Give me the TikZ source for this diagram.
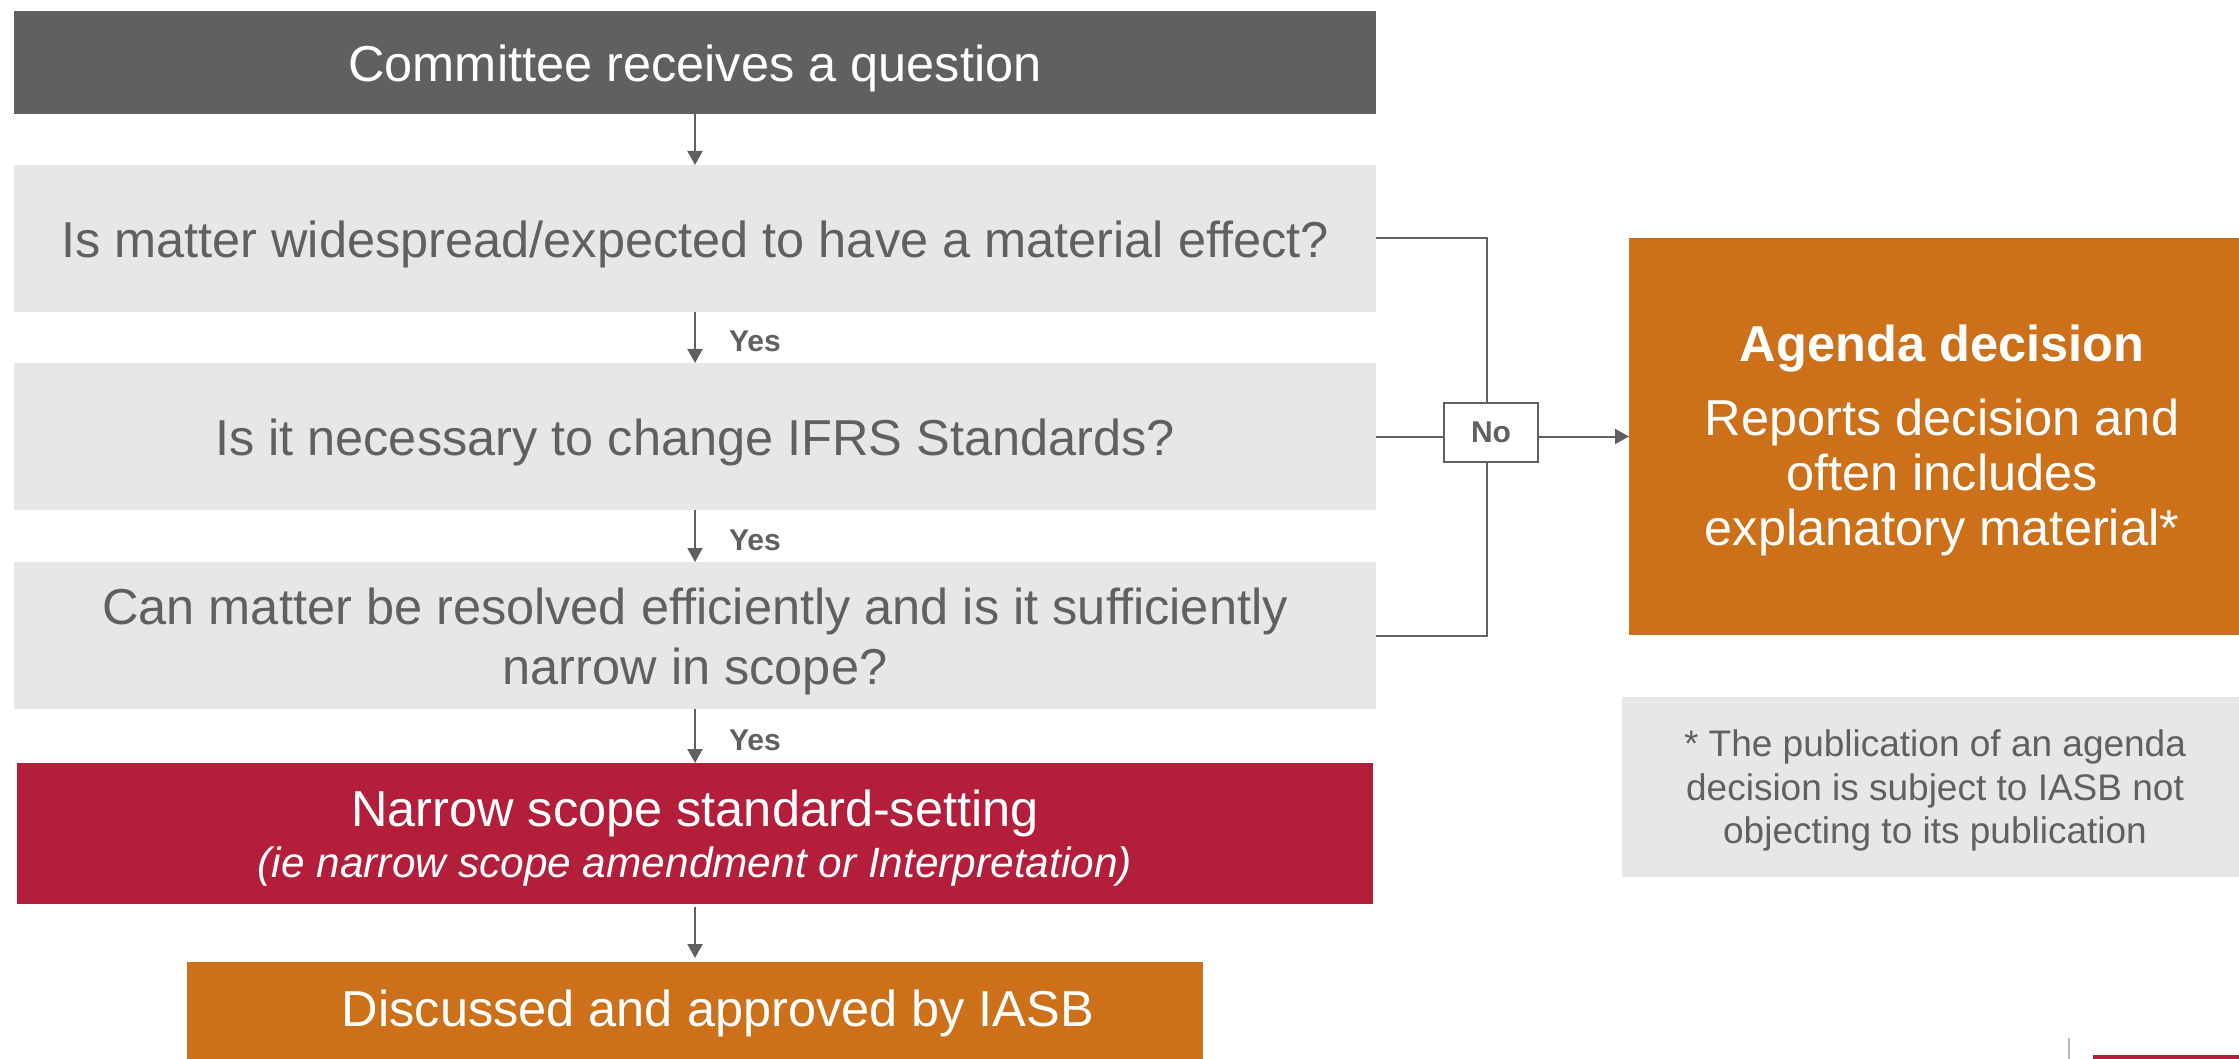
\documentclass[tikz,border=0pt]{standalone}
\usepackage{fontspec}
\setmainfont{Liberation Sans}
\usetikzlibrary{arrows.meta}
\definecolor{dg}{RGB}{95,96,98}
\definecolor{lg}{RGB}{231,231,231}
\definecolor{ifrsred}{RGB}{179,30,58}
\definecolor{ifrsorange}{RGB}{204,112,25}
\definecolor{decogray}{RGB}{185,185,185}
\newcommand\tallstrut[1]{\rule{0pt}{#1}}
\begin{document}
\begin{tikzpicture}[x=1pt,y=-1pt,
  box/.style={rectangle, inner sep=0pt, outer sep=0pt, align=center, draw=none},
  bigfont/.style={font=\fontsize{50.5}{60}\selectfont},
  qbox/.style={box, bigfont, fill=lg, text=dg, minimum width=1362pt, minimum height=147pt},
  conn/.style={draw=dg, line width=2pt},
  arr/.style={conn, -{Triangle[length=14pt,width=15pt]}},
  yeslbl/.style={inner sep=0pt, text=dg, font=\fontsize{30}{36}\selectfont\bfseries, anchor=west, xshift=33pt, yshift=-4pt}
]
\useasboundingbox (0,0) rectangle (2239,1059);
\clip (0,0) rectangle (2239,1059);

% main column
\node[box, bigfont, fill=dg, text=white, minimum width=1362pt, minimum height=103pt] (top) at (695,62.5) {\tallstrut{49pt}Committee receives a question};
\node[qbox] (q1) at (695,238.5) {\tallstrut{49pt}Is matter widespread/expected to have a material effect?};
\node[qbox] (q2) at (695,436.5) {\tallstrut{49pt}Is it necessary to change IFRS Standards?};
\node[qbox] (q3) at (695,635.5) {\tallstrut{49pt}Can matter be resolved efficiently and is it sufficiently\\narrow in scope?};
\node[box, bigfont, fill=ifrsred, text=white, minimum width=1356pt, minimum height=141pt] (nar) at (695,833.5)
  {\tallstrut{45.5pt}Narrow scope standard-setting\\[-9pt]{\fontsize{42.4}{50}\selectfont\itshape (ie narrow scope amendment or Interpretation)}};
\node[box, bigfont, fill=ifrsorange, text=white, minimum width=1016pt, minimum height=97pt, anchor=north] (iasb) at (695,962) {\hspace*{46pt}\tallstrut{43pt}Discussed and approved by IASB};

% right side
\node[box, fill=ifrsorange, text=white, minimum width=626pt, minimum height=397pt, anchor=west, font=\fontsize{50.5}{55}\selectfont] (ag) at (1629,436.5)
  {\tallstrut{45pt}\textbf{Agenda decision}\\[19pt]Reports decision and\\often includes\\explanatory material*};
\node[box, fill=lg, text=dg, minimum width=626pt, minimum height=180pt, anchor=west, font=\fontsize{37}{43.5}\selectfont] (fn) at (1622,787)
  {\tallstrut{34pt}* The publication of an agenda\\decision is subject to IASB not\\objecting to its publication};

\node[rectangle, draw=dg, line width=2pt, fill=white, minimum width=94pt, minimum height=59pt, inner sep=0pt, text=dg, font=\fontsize{30}{36}\selectfont\bfseries] (no) at (1491,432.5) {No};
\coordinate (j1) at (1487,238.5);
\coordinate (j3) at (1487,635.5);

% arrows down
\draw[arr] (top.south) -- (q1.north);
\draw[arr] (q1.south) -- (q2.north) node[yeslbl, midway] {Yes};
\draw[arr] (q2.south) -- (q3.north) node[yeslbl, midway] {Yes};
\draw[arr] (q3.south) -- (nar.north) node[yeslbl, midway] {Yes};
\draw[arr, shorten <=3pt, shorten >=4pt] (nar.south) -- (iasb.north);

% No connectors
\draw[conn] (q1.east) -- (j1) -- (j1 |- no.north);
\draw[conn] (q3.east) -- (j3) -- (j3 |- no.south);
\draw[conn] (q2.east) -- (q2.east -| no.west);
\draw[arr] (no.east |- ag.west) -- (ag.west);

% slide decorations
\draw[decogray, line width=2pt] (2069,1038) -- (2069,1062);
\fill[ifrsred] (2093,1055) rectangle (2245,1065);
\end{tikzpicture}
\end{document}
